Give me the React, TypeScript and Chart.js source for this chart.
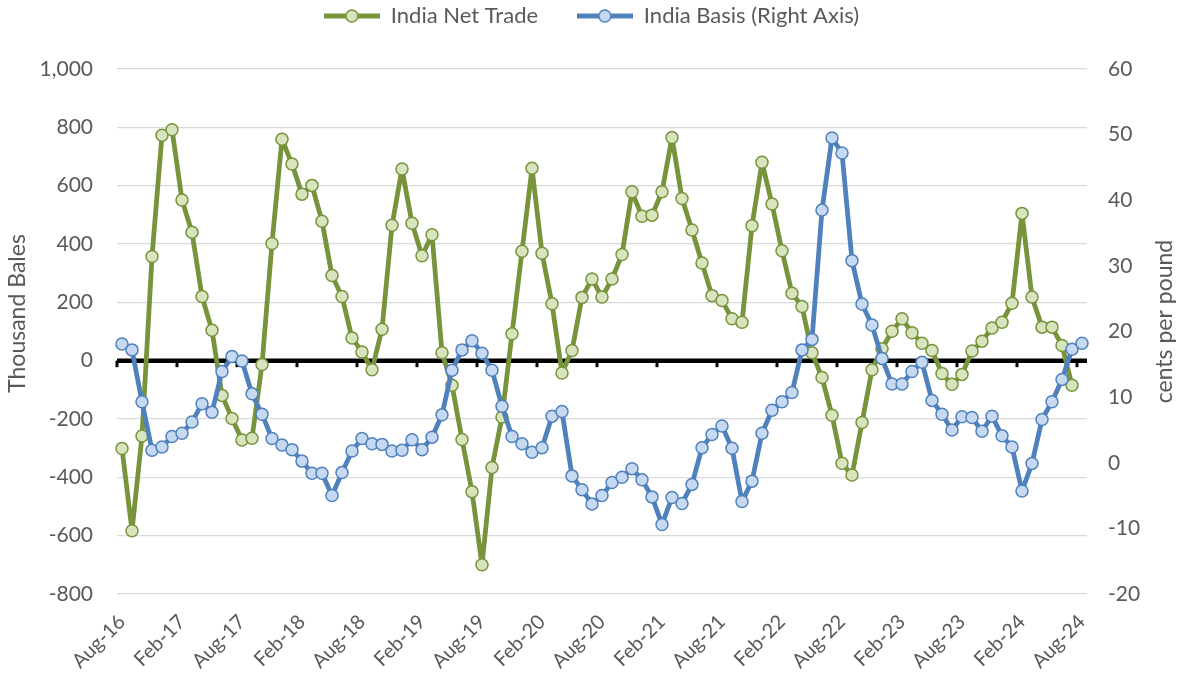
import React, { useEffect, useRef } from 'react';
import { Chart, registerables } from 'chart.js';

Chart.register(...registerables);

const MONTH_NAMES = ['Jan', 'Feb', 'Mar', 'Apr', 'May', 'Jun', 'Jul', 'Aug', 'Sep', 'Oct', 'Nov', 'Dec'];
const START_MONTH_INDEX = 7; // Aug
const START_YEAR = 2016;
const MONTH_COUNT = 97;

const categories: string[] = Array.from({ length: MONTH_COUNT }, (_, i) => {
  const total = START_MONTH_INDEX + i;
  const m = total % 12;
  const y = START_YEAR + Math.floor(total / 12);
  return `${MONTH_NAMES[m]}-${String(y % 100).padStart(2, '0')}`;
});

const TICK_EVERY = 6;

// Thousand bales (left axis), Aug-16 .. Jul-24
const netTrade: (number | null)[] = [
  -301, -583, -258, 357, 773, 792, 551, 440, 220, 104,
  -119, -198, -272, -266, -13, 402, 759, 674, 571, 601,
  478, 292, 220, 78, 30, -31, 108, 464, 657, 471,
  360, 432, 27, -84, -270, -449, -700, -366, -193, 92,
  375, 660, 368, 195, -42, 35, 217, 280, 218, 280,
  364, 579, 495, 499, 579, 765, 556, 448, 335, 223,
  206, 144, 132, 463, 680, 537, 377, 231, 186, 27,
  -58, -187, -352, -392, -212, -31, 41, 101, 144, 96,
  60, 35, -44, -81, -47, 33, 67, 112, 132, 197,
  505, 218, 115, 115, 52, -84, null,
];

// cents per pound (right axis), Aug-16 .. Aug-24
const basis: number[] = [
  18.1, 17.2, 9.3, 1.9, 2.4, 4.0, 4.5, 6.2, 9.0, 7.7,
  13.9, 16.2, 15.5, 10.5, 7.4, 3.7, 2.7, 2.0, 0.25, -1.6,
  -1.6, -5.0, -1.5, 1.8, 3.7, 2.9, 2.8, 1.8, 1.9, 3.5,
  2.0, 3.9, 7.3, 14.1, 17.2, 18.6, 16.7, 14.1, 8.6, 4.0,
  2.9, 1.6, 2.3, 7.1, 7.8, -2.0, -4.1, -6.3, -5.0, -3.0,
  -2.2, -0.9, -2.6, -5.2, -9.4, -5.3, -6.2, -3.3, 2.3, 4.3,
  5.6, 2.2, -5.9, -2.8, 4.5, 8.0, 9.3, 10.7, 17.2, 18.8,
  38.5, 49.5, 47.2, 30.8, 24.2, 21.0, 15.9, 12.0, 12.0, 13.9,
  15.3, 9.5, 7.4, 5.0, 7.0, 6.9, 4.8, 7.1, 4.1, 2.4,
  -4.3, -0.1, 6.6, 9.3, 12.7, 17.3, 18.2,
];

const LEFT_MIN = -800;
const LEFT_MAX = 1000;
const LEFT_STEP = 200;
const RIGHT_MIN = -20;
const RIGHT_MAX = 60;
const RIGHT_STEP = 10;

const GREEN = '#77933C';
const GREEN_FILL = '#D7E4BD';
const BLUE = '#4F81BD';
const BLUE_FILL = '#C6D9F1';
const TEXT = '#595959';
const FONT = 'Lato';

function makeIcon(line: string, fill: string): HTMLCanvasElement {
  const c = document.createElement('canvas');
  c.width = 56;
  c.height = 16;
  const g = c.getContext('2d')!;
  g.strokeStyle = line;
  g.lineWidth = 5;
  g.beginPath();
  g.moveTo(0, 8);
  g.lineTo(56, 8);
  g.stroke();
  g.beginPath();
  g.arc(28, 8, 6, 0, Math.PI * 2);
  g.fillStyle = fill;
  g.fill();
  g.lineWidth = 1.5;
  g.stroke();
  return c;
}

const zeroLinePlugin = {
  id: 'zeroLine',
  beforeDatasetsDraw(chart: any) {
    const { ctx, chartArea } = chart;
    const x = chart.scales.x;
    const yL = chart.scales.yL;
    const y0 = yL.getPixelForValue(0);
    const half = (x.getPixelForValue(1) - x.getPixelForValue(0)) / 2;
    ctx.save();
    ctx.strokeStyle = '#000';
    ctx.lineWidth = 4.5;
    ctx.beginPath();
    ctx.moveTo(chartArea.left, y0);
    ctx.lineTo(chartArea.right, y0);
    ctx.stroke();
    ctx.lineWidth = 3;
    for (let i = 0; i < MONTH_COUNT; i += TICK_EVERY) {
      const px = x.getPixelForValue(i) - half;
      ctx.beginPath();
      ctx.moveTo(px, y0);
      ctx.lineTo(px, y0 + 6.5);
      ctx.stroke();
    }
    ctx.restore();
  },
};

const axisTitlePlugin = {
  id: 'axisTitles',
  afterDraw(chart: any) {
    const { ctx, chartArea } = chart;
    const midY = (chartArea.top + chartArea.bottom) / 2;
    ctx.save();
    ctx.fillStyle = TEXT;
    ctx.font = `23px ${FONT}`;
    ctx.textAlign = 'center';
    ctx.textBaseline = 'middle';
    ctx.translate(18, midY - 18);
    ctx.rotate(-Math.PI / 2);
    ctx.fillText('Thousand Bales', 0, 0);
    ctx.restore();
    ctx.save();
    ctx.fillStyle = TEXT;
    ctx.font = `23px ${FONT}`;
    ctx.textAlign = 'center';
    ctx.textBaseline = 'middle';
    ctx.translate(chart.width - 18, midY - 10);
    ctx.rotate(-Math.PI / 2);
    ctx.fillText('cents per pound', 0, 0);
    ctx.restore();
  },
};

export default function App() {
  const ref = useRef<HTMLCanvasElement | null>(null);

  useEffect(() => {
    document.body.style.margin = '0';
    const canvas = ref.current;
    if (!canvas) return;
    const icons = [makeIcon(GREEN, GREEN_FILL), makeIcon(BLUE, BLUE_FILL)];

    const chart = new Chart(canvas, {
      type: 'line',
      data: {
        labels: categories,
        datasets: [
          {
            label: 'India Net Trade',
            data: netTrade,
            yAxisID: 'yL',
            xAxisID: 'x',
            borderColor: GREEN,
            backgroundColor: GREEN_FILL,
            borderWidth: 4.8,
            borderJoinStyle: 'round',
            borderCapStyle: 'round',
            pointRadius: 6,
            pointBorderWidth: 1.5,
            pointBackgroundColor: GREEN_FILL,
            pointBorderColor: GREEN,
            tension: 0,
            order: 1,
          },
          {
            label: 'India Basis (Right Axis)',
            data: basis,
            yAxisID: 'yR',
            xAxisID: 'x',
            borderColor: BLUE,
            backgroundColor: BLUE_FILL,
            borderWidth: 4.8,
            borderJoinStyle: 'round',
            borderCapStyle: 'round',
            pointRadius: 6,
            pointBorderWidth: 1.5,
            pointBackgroundColor: BLUE_FILL,
            pointBorderColor: BLUE,
            tension: 0,
            order: 0,
          },
        ],
      },
      options: {
        animation: false,
        responsive: false,
        devicePixelRatio: 1,
        layout: { padding: 0 },
        font: { family: FONT },
        plugins: {
          tooltip: { enabled: false },
          legend: {
            position: 'top',
            labels: {
              usePointStyle: true,
              pointStyleWidth: 56,
              padding: 5,
              color: TEXT,
              font: { family: FONT, size: 22 },
              sort: (a: any, b: any) => a.datasetIndex - b.datasetIndex,
              generateLabels: (c: any) =>
                c.data.datasets.map((ds: any, i: number) => ({
                  text: ds.label + (i === 0 ? '      ' : ''),
                  pointStyle: icons[i],
                  fillStyle: 'rgba(0,0,0,0)',
                  strokeStyle: 'rgba(0,0,0,0)',
                  lineWidth: 0,
                  fontColor: TEXT,
                  hidden: !c.isDatasetVisible(i),
                  datasetIndex: i,
                })),
            },
          },
        },
        scales: {
          xTop: {
            type: 'category',
            position: 'top',
            display: true,
            grid: { display: false },
            border: { display: false },
            ticks: { display: false },
            afterFit: (s: any) => {
              s.height = 32;
            },
          },
          x: {
            type: 'category',
            offset: true,
            grid: { display: false },
            border: { display: false },
            ticks: {
              autoSkip: false,
              maxRotation: 45,
              minRotation: 45,
              padding: 8,
              color: TEXT,
              font: { family: FONT, size: 20 },
              callback: (_v: any, i: number) => (i % TICK_EVERY === 0 ? categories[i] : ''),
            },
            afterFit: (s: any) => {
              s.height = 85;
            },
          },
          yL: {
            type: 'linear',
            position: 'left',
            min: LEFT_MIN,
            max: LEFT_MAX,
            border: { display: false },
            grid: {
              color: (ctx: any) => (ctx.tick && ctx.tick.value === 0 ? 'rgba(0,0,0,0)' : '#D9D9D9'),
              lineWidth: 1.3,
              drawTicks: false,
            },
            ticks: {
              stepSize: LEFT_STEP,
              padding: 24,
              color: TEXT,
              font: { family: FONT, size: 21 },
              callback: (v: any) => Number(v).toLocaleString('en-US'),
            },
            afterFit: (s: any) => {
              s.width = 117;
            },
          },
          yR: {
            type: 'linear',
            position: 'right',
            min: RIGHT_MIN,
            max: RIGHT_MAX,
            border: { display: false },
            grid: { display: false, drawTicks: false },
            ticks: {
              stepSize: RIGHT_STEP,
              padding: 21,
              color: TEXT,
              font: { family: FONT, size: 21 },
            },
            afterFit: (s: any) => {
              s.width = 96;
            },
          },
        },
      },
      plugins: [zeroLinePlugin, axisTitlePlugin],
    });

    return () => chart.destroy();
  }, []);

  return (
    <div style={{ position: 'absolute', left: 0, top: 0, width: 1183, height: 679, background: '#fff' }}>
      <canvas ref={ref} width={1183} height={679} style={{ display: 'block', width: 1183, height: 679 }} />
    </div>
  );
}
